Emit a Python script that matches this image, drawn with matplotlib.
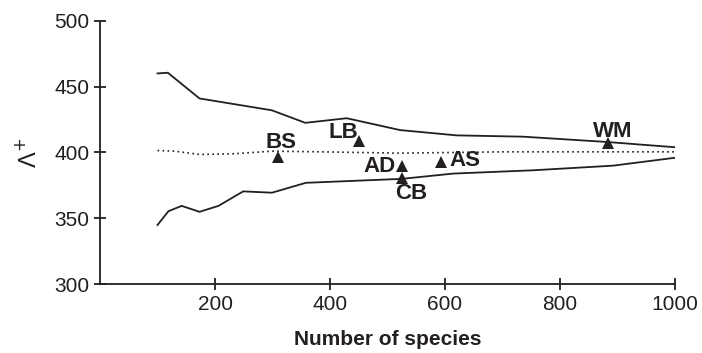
import matplotlib
matplotlib.use("Agg")
import matplotlib.pyplot as plt

plt.rcParams['font.family'] = ['Liberation Sans', 'DejaVu Sans']

ink = '#231f20'

# upper and lower limits of the funnel, and the mean (dotted)
upper_x = [100, 118, 173, 299, 357, 429, 522, 620, 736, 881, 1000]
upper_y = [460, 460.5, 441, 432, 422.5, 426, 417, 413, 412, 408, 404]

mean_x = [100, 130, 174, 231, 299, 386, 520, 700, 1000]
mean_y = [401.5, 401, 398.5, 399, 401, 400.5, 399.5, 400.5, 400.5]

lower_x = [100, 119, 142, 173, 206, 249, 299, 358, 525, 614, 753, 892, 1000]
lower_y = [345, 355.5, 359.5, 355, 359.5, 370.5, 369.5, 377, 380, 384, 386.5, 390, 396]

# regions
site_names = ['BS', 'LB', 'AD', 'CB', 'AS', 'WM']
site_x = [309, 451, 526, 526, 593, 883]
site_y = [396.4, 408.6, 389.5, 380.5, 392.7, 407]
# label offsets in points
label_off = [(2.5, 10.5), (-11.5, 6.5), (-16.5, 0), (6, -11), (17.5, 1), (3.5, 8.5)]

fig = plt.figure(figsize=(7.02, 3.53), dpi=100)
ax = fig.add_axes([0.1425, 0.1946, 0.819, 0.7468])

ax.plot(upper_x, upper_y, color=ink, lw=1.3)
ax.plot(lower_x, lower_y, color=ink, lw=1.3)
ax.plot(mean_x, mean_y, color=ink, lw=1.2, linestyle=(0, (1, 2)))

ax.plot(site_x, site_y, '^', color=ink, ms=8, markeredgewidth=0)
for name, x, y, off in zip(site_names, site_x, site_y, label_off):
    ax.annotate(name, (x, y), xytext=off, textcoords='offset points',
                ha='center', va='center', fontsize=16, fontweight='bold', color=ink)

ax.set_xlim(0, 1000)
ax.set_ylim(300, 500)
ax.set_xticks([200, 400, 600, 800, 1000])
ax.set_yticks([300, 350, 400, 450, 500])

for s in ['top', 'right']:
    ax.spines[s].set_visible(False)
for s in ['left', 'bottom']:
    ax.spines[s].set_linewidth(1.3)
    ax.spines[s].set_color(ink)

ax.tick_params(direction='inout', length=9, width=1.3, color=ink,
               labelsize=15, labelcolor=ink, pad=3)

ax.set_xlabel('Number of species', fontsize=15, fontweight='bold', color=ink, labelpad=12)
ax.set_ylabel('Λ$^{+}$', fontsize=17, color=ink, labelpad=10)

fig.savefig('out.png', dpi=100)
